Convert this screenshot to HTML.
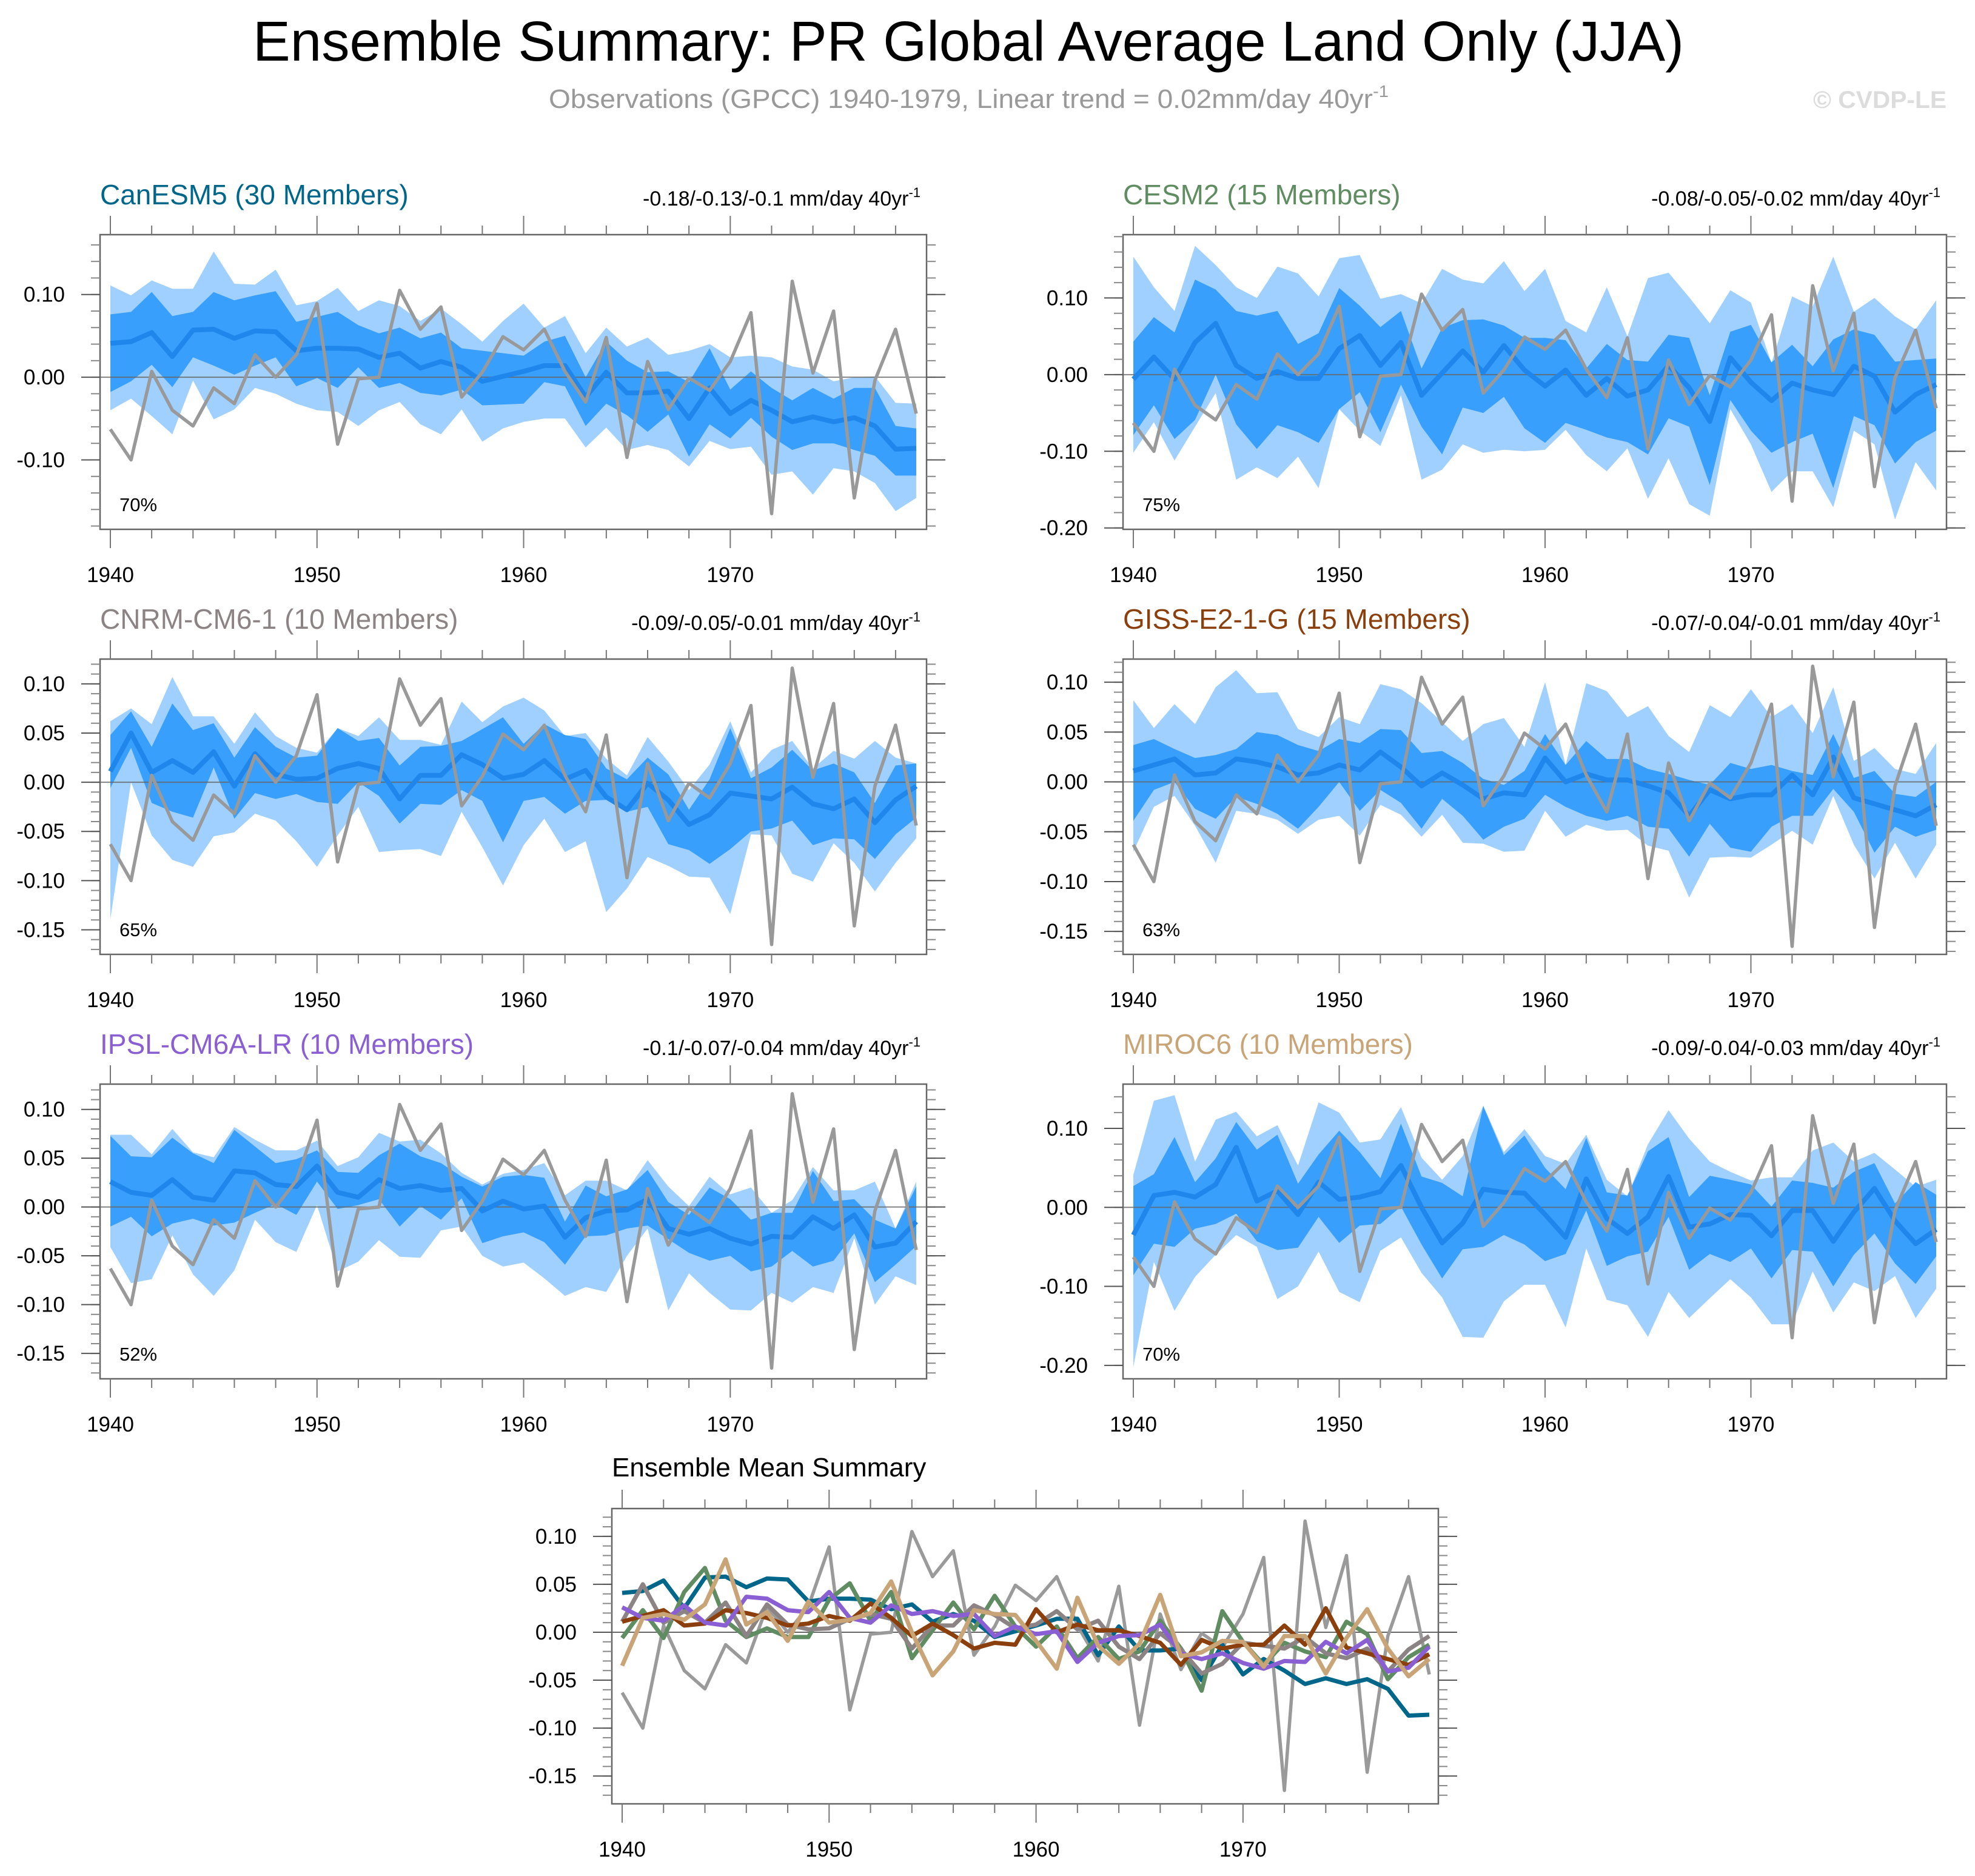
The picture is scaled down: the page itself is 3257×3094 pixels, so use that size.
<!DOCTYPE html>
<html><head><meta charset="utf-8"><title>Ensemble Summary: PR Global Average Land Only (JJA)</title>
<style>html,body{margin:0;padding:0;background:#fff}svg{display:block}text{font-family:"Liberation Sans",Arial,sans-serif}</style></head>
<body>
<svg id="fig" xmlns="http://www.w3.org/2000/svg" width="3257" height="3094" viewBox="0 0 3257 3094">
<rect width="3257" height="3094" fill="#fff"/>
<text x="417" y="100" font-size="93" textLength="2360" lengthAdjust="spacingAndGlyphs" fill="#000">Ensemble Summary: PR Global Average Land Only (JJA)</text>
<text x="905" y="178" font-size="44" fill="#999" textLength="1385" lengthAdjust="spacingAndGlyphs">Observations (GPCC) 1940-1979, Linear trend = 0.02mm/day 40yr<tspan dy="-18" font-size="28">-1</tspan></text>
<text x="2990" y="178" font-size="40" font-weight="bold" fill="#dcdcdc" textLength="220" lengthAdjust="spacingAndGlyphs">© CVDP-LE</text>
<g id="panels"></g>
</svg>
<script>
const years = [];
for (let y = 1940; y <= 1979; y++) years.push(y);

const obs = [-0.063,-0.10,0.007,-0.040,-0.059,-0.013,-0.032,0.027,0.0,0.027,0.089,-0.081,-0.002,0.0,0.105,0.058,0.085,-0.024,0.006,0.049,0.033,0.058,0.007,-0.030,0.048,-0.097,0.019,-0.039,-0.001,-0.016,0.019,0.078,-0.165,0.116,0.005,0.080,-0.146,-0.004,0.058,-0.044];

const canMean = [0.041,0.043,0.054,0.025,0.057,0.058,0.047,0.056,0.055,0.032,0.035,0.035,0.034,0.024,0.029,0.011,0.019,0.012,-0.005,0.001,0.007,0.014,0.014,-0.024,0.006,-0.019,-0.019,-0.017,-0.050,-0.013,-0.044,-0.028,-0.040,-0.054,-0.048,-0.054,-0.049,-0.059,-0.087,-0.086];
const canLightHi = [0.111,0.099,0.117,0.107,0.107,0.152,0.113,0.112,0.13,0.087,0.092,0.108,0.080,0.093,0.086,0.068,0.083,0.064,0.043,0.068,0.089,0.060,0.074,0.029,0.060,0.037,0.048,0.027,0.032,0.040,0.024,0.026,0.024,0.013,0.009,-0.005,0.000,0.001,-0.031,-0.032];
const canDarkHi = [0.076,0.079,0.103,0.074,0.079,0.103,0.093,0.099,0.104,0.067,0.073,0.079,0.063,0.053,0.060,0.047,0.054,0.035,0.032,0.029,0.026,0.043,0.050,0.0,0.043,0.020,0.006,0.007,-0.006,0.035,-0.015,0.007,-0.013,-0.028,-0.013,-0.026,-0.013,-0.013,-0.059,-0.062];
const canDarkLo = [-0.018,-0.005,0.015,-0.012,0.024,0.014,0.003,0.014,0.024,-0.011,-0.001,-0.013,0.012,-0.013,-0.007,-0.019,-0.022,-0.015,-0.034,-0.033,-0.032,-0.006,-0.011,-0.059,-0.032,-0.046,-0.066,-0.045,-0.096,-0.057,-0.074,-0.049,-0.072,-0.088,-0.080,-0.080,-0.088,-0.095,-0.119,-0.119];
const canLightLo = [-0.040,-0.026,-0.047,-0.069,-0.004,-0.051,-0.039,-0.013,-0.020,-0.032,-0.040,-0.042,-0.059,-0.040,-0.030,-0.057,-0.069,-0.039,-0.078,-0.062,-0.054,-0.050,-0.050,-0.085,-0.061,-0.088,-0.082,-0.088,-0.108,-0.077,-0.087,-0.084,-0.118,-0.114,-0.142,-0.110,-0.114,-0.128,-0.162,-0.146];

const cesmMean = [-0.006,0.023,-0.006,0.042,0.067,0.012,-0.005,0.004,-0.005,-0.005,0.034,0.051,0.012,0.042,-0.027,0.002,0.031,0.003,0.038,0.006,-0.015,0.006,-0.027,-0.005,-0.028,-0.020,0.012,-0.017,-0.061,0.022,-0.010,-0.034,-0.011,-0.020,-0.026,0.011,-0.002,-0.049,-0.026,-0.013];
const cesmLightHi = [0.154,0.114,0.083,0.168,0.143,0.114,0.100,0.141,0.132,0.102,0.152,0.156,0.099,0.105,0.093,0.138,0.124,0.119,0.148,0.109,0.138,0.070,0.055,0.114,0.050,0.126,0.133,0.101,0.067,0.110,0.094,0.015,0.102,0.089,0.154,0.082,0.100,0.076,0.059,0.097];
const cesmDarkHi = [0.043,0.075,0.055,0.124,0.111,0.083,0.077,0.083,0.040,0.054,0.113,0.090,0.062,0.083,0.008,0.061,0.071,0.072,0.064,0.048,0.048,0.045,0.008,0.040,0.019,0.017,0.052,0.048,-0.027,0.056,0.065,0.016,0.039,0.011,0.046,0.059,0.052,0.017,0.019,0.021];
const cesmDarkLo = [-0.079,-0.040,-0.084,-0.059,0.000,-0.065,-0.097,-0.066,-0.075,-0.089,-0.045,-0.023,-0.075,-0.013,-0.068,-0.104,-0.043,-0.050,-0.029,-0.070,-0.089,-0.063,-0.072,-0.082,-0.088,-0.104,-0.057,-0.068,-0.144,-0.033,-0.073,-0.102,-0.088,-0.077,-0.148,-0.054,-0.066,-0.116,-0.088,-0.073];
const cesmLightLo = [-0.102,-0.062,-0.112,-0.068,-0.024,-0.137,-0.121,-0.135,-0.107,-0.148,-0.045,-0.073,-0.093,-0.027,-0.137,-0.124,-0.091,-0.102,-0.098,-0.100,-0.098,-0.072,-0.105,-0.126,-0.096,-0.162,-0.109,-0.169,-0.184,-0.045,-0.091,-0.153,-0.126,-0.126,-0.173,-0.073,-0.091,-0.189,-0.114,-0.151];

const cnrmMean = [0.011,0.050,0.010,0.022,0.010,0.031,-0.004,0.029,0.008,0.003,0.004,0.014,0.019,0.014,-0.017,0.007,0.007,0.028,0.018,0.004,0.008,0.022,0.003,0.012,-0.015,-0.028,-0.001,-0.018,-0.043,-0.033,-0.011,-0.014,-0.017,-0.005,-0.022,-0.027,-0.017,-0.041,-0.018,-0.004];
const cnrmLightHi = [0.062,0.075,0.059,0.107,0.067,0.067,0.039,0.071,0.047,0.035,0.030,0.055,0.047,0.066,0.043,0.043,0.038,0.082,0.061,0.077,0.086,0.073,0.047,0.050,0.024,0.007,0.046,0.021,-0.008,0.018,0.062,0.010,0.033,0.042,0.014,0.032,0.024,0.042,0.025,0.019];
const cnrmDarkHi = [0.048,0.072,0.036,0.080,0.053,0.060,0.025,0.056,0.036,0.025,0.027,0.055,0.042,0.045,0.017,0.036,0.037,0.042,0.054,0.066,0.039,0.059,0.048,0.044,0.014,0.003,0.025,0.008,-0.028,0.003,0.055,0.004,0.015,0.033,0.012,0.019,0.010,-0.021,0.017,0.019];
const cnrmDarkLo = [-0.006,0.035,-0.021,-0.030,-0.036,0.015,-0.037,-0.011,-0.017,-0.012,-0.020,-0.022,0.000,-0.014,-0.042,-0.022,-0.023,-0.008,-0.019,-0.061,-0.019,-0.015,-0.032,-0.019,-0.018,-0.030,-0.025,-0.063,-0.069,-0.083,-0.068,-0.050,-0.047,-0.039,-0.064,-0.057,-0.058,-0.078,-0.053,-0.036];
const cnrmLightLo = [-0.139,0.000,-0.054,-0.079,-0.086,-0.055,-0.051,-0.032,-0.039,-0.060,-0.086,-0.054,-0.025,-0.071,-0.069,-0.068,-0.075,-0.030,-0.066,-0.105,-0.064,-0.037,-0.071,-0.060,-0.132,-0.108,-0.076,-0.085,-0.096,-0.097,-0.134,-0.053,-0.054,-0.093,-0.101,-0.062,-0.082,-0.111,-0.082,-0.057];

const gissMean = [0.011,0.017,0.023,0.007,0.009,0.023,0.020,0.015,0.007,0.009,0.017,0.012,0.030,0.015,-0.004,0.009,-0.003,-0.017,-0.011,-0.013,0.024,0.000,0.008,0.002,0.002,-0.004,-0.011,-0.034,-0.008,-0.017,-0.013,-0.013,0.007,-0.013,0.025,-0.016,-0.022,-0.028,-0.034,-0.023];
const gissLightHi = [0.082,0.054,0.078,0.058,0.095,0.112,0.089,0.090,0.053,0.045,0.065,0.058,0.098,0.093,0.079,0.060,0.041,0.058,0.064,0.035,0.100,0.017,0.099,0.091,0.065,0.076,0.046,0.030,0.077,0.065,0.093,0.065,0.078,0.049,0.095,0.021,0.034,0.013,0.008,0.039];
const gissDarkHi = [0.037,0.043,0.033,0.024,0.027,0.033,0.050,0.047,0.037,0.031,0.043,0.039,0.053,0.052,0.029,0.031,0.019,0.003,-0.003,0.011,0.048,0.017,0.041,0.023,0.023,0.013,0.008,0.002,-0.003,0.019,0.013,0.017,0.011,0.007,0.048,0.004,0.011,-0.012,-0.015,0.000];
const gissDarkLo = [-0.039,-0.008,0.000,-0.027,-0.037,-0.015,-0.022,-0.032,-0.047,-0.025,0.000,-0.029,-0.008,-0.021,-0.047,-0.017,-0.034,-0.058,-0.045,-0.037,-0.013,-0.025,-0.034,-0.039,-0.034,-0.045,-0.047,-0.075,-0.042,-0.066,-0.070,-0.045,-0.034,-0.034,-0.007,-0.030,-0.071,-0.045,-0.055,-0.048];
const gissLightLo = [-0.070,-0.025,-0.014,-0.044,-0.081,-0.029,-0.032,-0.038,-0.052,-0.038,-0.034,-0.054,-0.023,-0.033,-0.055,-0.033,-0.061,-0.062,-0.070,-0.069,-0.029,-0.055,-0.043,-0.049,-0.048,-0.064,-0.069,-0.116,-0.076,-0.075,-0.076,-0.063,-0.049,-0.063,-0.014,-0.063,-0.097,-0.061,-0.097,-0.063];

const ipslMean = [0.026,0.015,0.012,0.028,0.010,0.007,0.037,0.035,0.023,0.021,0.042,0.015,0.010,0.028,0.019,0.022,0.017,0.019,-0.004,0.006,-0.002,0.001,-0.031,-0.011,-0.004,-0.003,0.008,-0.022,-0.028,-0.022,-0.032,-0.038,-0.030,-0.031,-0.010,-0.022,-0.008,-0.041,-0.037,-0.015];
const ipslLightHi = [0.074,0.074,0.054,0.080,0.056,0.051,0.082,0.069,0.058,0.058,0.068,0.042,0.051,0.076,0.067,0.069,0.055,0.035,0.023,0.034,0.038,0.045,0.012,0.027,0.027,0.017,0.048,0.021,0.001,0.031,0.013,0.020,-0.006,0.007,0.041,0.017,0.017,0.026,-0.022,0.026];
const ipslDarkHi = [0.073,0.052,0.051,0.071,0.055,0.045,0.079,0.062,0.045,0.049,0.058,0.036,0.035,0.053,0.065,0.052,0.045,0.031,0.021,0.031,0.033,0.030,-0.015,0.022,0.011,0.018,0.038,0.005,-0.008,0.020,0.008,-0.013,-0.006,-0.006,0.037,0.006,0.008,-0.013,-0.022,0.021];
const ipslDarkLo = [-0.020,-0.010,-0.030,-0.017,-0.012,-0.019,-0.016,-0.006,0.003,-0.008,0.026,-0.002,0.002,0.008,-0.020,0.001,-0.013,0.009,-0.037,-0.030,-0.026,-0.036,-0.059,-0.030,-0.029,-0.022,-0.019,-0.033,-0.047,-0.055,-0.050,-0.066,-0.061,-0.045,-0.061,-0.055,-0.027,-0.077,-0.059,-0.040];
const ipslLightLo = [-0.041,-0.078,-0.074,-0.029,-0.069,-0.091,-0.065,-0.013,-0.036,-0.046,0.002,-0.066,-0.056,-0.034,-0.051,-0.052,-0.024,-0.020,-0.050,-0.061,-0.057,-0.073,-0.091,-0.082,-0.087,-0.050,-0.022,-0.106,-0.068,-0.088,-0.105,-0.106,-0.088,-0.098,-0.082,-0.088,-0.032,-0.100,-0.071,-0.080];

const mirocMean = [-0.035,0.015,0.019,0.013,0.029,0.076,0.008,0.021,-0.009,0.032,0.010,0.013,0.020,0.053,0.000,-0.045,-0.020,0.023,0.019,0.018,-0.009,-0.038,0.036,-0.014,-0.033,-0.012,0.039,-0.025,-0.021,-0.009,-0.010,-0.036,-0.004,-0.004,-0.043,-0.006,0.024,-0.017,-0.046,-0.028];
const mirocLightHi = [0.041,0.135,0.142,0.058,0.111,0.121,0.090,0.104,0.053,0.133,0.120,0.082,0.086,0.127,0.063,0.035,0.065,0.129,0.070,0.099,0.065,0.055,0.092,0.035,0.014,0.080,0.123,0.087,0.058,0.045,0.034,0.038,0.038,0.072,0.082,0.058,0.069,0.048,0.026,0.035];
const mirocDarkHi = [0.027,0.042,0.089,0.032,0.062,0.108,0.073,0.092,0.030,0.067,0.097,0.070,0.037,0.106,0.039,0.031,0.014,0.128,0.066,0.091,0.050,0.023,0.088,0.019,0.015,0.071,0.089,0.013,0.040,0.035,0.029,0.001,0.034,0.031,0.025,0.045,0.056,0.005,0.032,0.016];
const mirocDarkLo = [-0.086,-0.046,-0.050,-0.027,-0.021,-0.008,-0.043,-0.054,-0.051,-0.012,-0.045,-0.023,-0.021,0.001,-0.047,-0.090,-0.053,-0.050,-0.035,-0.047,-0.068,-0.059,-0.004,-0.074,-0.062,-0.056,-0.012,-0.079,-0.059,-0.069,-0.052,-0.090,-0.054,-0.056,-0.100,-0.060,-0.033,-0.071,-0.097,-0.062];
const mirocLightLo = [-0.202,-0.069,-0.131,-0.088,-0.060,-0.035,-0.050,-0.116,-0.100,-0.056,-0.107,-0.120,-0.055,-0.038,-0.083,-0.114,-0.164,-0.165,-0.119,-0.098,-0.098,-0.152,-0.052,-0.117,-0.124,-0.164,-0.107,-0.140,-0.115,-0.091,-0.114,-0.148,-0.148,-0.081,-0.133,-0.095,-0.106,-0.087,-0.140,-0.103];

const modelNames = ["CanESM5","CESM2","CNRM-CM6-1","GISS-E2-1-G","IPSL-CM6A-LR","MIROC6"];
const memberCounts = [30,15,10,15,10,10];
const trendLabels = ["-0.18/-0.13/-0.1","-0.08/-0.05/-0.02","-0.09/-0.05/-0.01","-0.07/-0.04/-0.01","-0.1/-0.07/-0.04","-0.09/-0.04/-0.03"];
const pctLabels = ["70%","75%","65%","63%","52%","70%"];
const yTickLabels = [["-0.10","0.00","0.10"],["-0.20","-0.10","0.00","0.10"],["-0.15","-0.10","-0.05","0.00","0.05","0.10"],["-0.15","-0.10","-0.05","0.00","0.05","0.10"],["-0.15","-0.10","-0.05","0.00","0.05","0.10"],["-0.20","-0.10","0.00","0.10"]];
const summaryTickLabels = ["-0.15","-0.10","-0.05","0.00","0.05","0.10"];
const xTickLabels = ["1940","1950","1960","1970"];

const means = [canMean,cesmMean,cnrmMean,gissMean,ipslMean,mirocMean];
const lightHi = [canLightHi,cesmLightHi,cnrmLightHi,gissLightHi,ipslLightHi,mirocLightHi];
const darkHi = [canDarkHi,cesmDarkHi,cnrmDarkHi,gissDarkHi,ipslDarkHi,mirocDarkHi];
const darkLo = [canDarkLo,cesmDarkLo,cnrmDarkLo,gissDarkLo,ipslDarkLo,mirocDarkLo];
const lightLo = [canLightLo,cesmLightLo,cnrmLightLo,gissLightLo,ipslLightLo,mirocLightLo];

// styling / layout (not data)
const modelColors = ["#00678a","#5f8c60","#8c8484","#8b3f0c","#8a5fd4","#c9a477"];
const yRanges = [[-0.184,0.1724,0.02],[-0.2018,0.1826,0.02],[-0.175,0.1252,0.01],[-0.173,0.1232,0.01],[-0.176,0.1259,0.01],[-0.217,0.156,0.02]];
const colX = [{l:165,r:1528,x0:182,x1:1511},{l:1852,r:3210,x0:1869,x1:3193}];
const rowY = [{t:387,b:873},{t:1087,b:1574},{t:1788,b:2274}];

const NS = "http://www.w3.org/2000/svg";
const root = document.getElementById("panels");
function mk(tag, attrs, parent) {
  const e = document.createElementNS(NS, tag);
  for (const k in attrs) e.setAttribute(k, attrs[k]);
  (parent || root).appendChild(e);
  return e;
}

function drawAxes(g, box, ymin, ymax, minorStep, labels, xs, ys, prefix) {
  const fr = mk("rect", {x: box.l, y: box.t, width: box.r - box.l, height: box.b - box.t, fill: "none", stroke: "#666", "stroke-width": 2.5}, g);
  
  
  for (let yr = 1940; yr <= 1978; yr += 2) {
    const major = (yr % 10 === 0);
    const len = major ? 31 : 15;
    const x = xs(yr);
    const t1 = mk("line", {x1: x, x2: x, y1: box.t, y2: box.t - len, stroke: "#777", "stroke-width": 2}, g);
    
    
    const t2 = mk("line", {x1: x, x2: x, y1: box.b, y2: box.b + len, stroke: "#777", "stroke-width": 2}, g);
    
    
  }
  xTickLabels.forEach(function (lab) {
    const tx = mk("text", {x: xs(+lab), y: box.b + 87, "font-size": 35, "text-anchor": "middle", fill: "#000"}, g);
    tx.textContent = lab;
    
    
  });
  const start = Math.ceil(ymin / minorStep - 1e-6);
  const end = Math.floor(ymax / minorStep + 1e-6);
  for (let i = start; i <= end; i++) {
    const v = i * minorStep;
    const y = ys(v);
    const t1 = mk("line", {x1: box.l, x2: box.l - 15, y1: y, y2: y, stroke: "#888", "stroke-width": 2}, g);
    
    
    const t2 = mk("line", {x1: box.r, x2: box.r + 15, y1: y, y2: y, stroke: "#888", "stroke-width": 2}, g);
    
    
  }
  labels.forEach(function (lab) {
    const v = parseFloat(lab);
    const y = ys(v);
    const t1 = mk("line", {x1: box.l, x2: box.l - 31, y1: y, y2: y, stroke: "#555", "stroke-width": 2}, g);
    
    
    const t2 = mk("line", {x1: box.r, x2: box.r + 31, y1: y, y2: y, stroke: "#555", "stroke-width": 2}, g);
    
    
    const tx = mk("text", {x: box.l - 58, y: y + 12, "font-size": 35, "text-anchor": "end", fill: "#000"}, g);
    tx.textContent = lab;
    
    
  });
}

function pts(arr, xs, ys) {
  return arr.map(function (v, i) { return xs(years[i]).toFixed(1) + "," + ys(v).toFixed(1); }).join(" ");
}
function bandPts(hi, lo, xs, ys) {
  const a = hi.map(function (v, i) { return xs(years[i]).toFixed(1) + "," + ys(v).toFixed(1); });
  const b = lo.map(function (v, i) { return xs(years[i]).toFixed(1) + "," + ys(v).toFixed(1); }).reverse();
  return a.concat(b).join(" ");
}

for (let p = 0; p < 6; p++) {
  const c = colX[p % 2], r = rowY[Math.floor(p / 2)];
  const box = {l: c.l, r: c.r, t: r.t, b: r.b};
  const [ymin, ymax, minor] = yRanges[p];
  const xs = function (yr) { return c.x0 + (yr - 1940) * (c.x1 - c.x0) / 39; };
  const ys = function (v) { return r.t + (ymax - v) / (ymax - ymin) * (r.b - r.t); };
  const prefix = modelNames[p].toLowerCase();
  const g = mk("g", {});
  
  

  const lb = mk("polygon", {points: bandPts(lightHi[p], lightLo[p], xs, ys), fill: "#a0d0ff"}, g);
  
  
  const db = mk("polygon", {points: bandPts(darkHi[p], darkLo[p], xs, ys), fill: "#389ffd"}, g);
  
  
  const zl = mk("line", {x1: box.l, x2: box.r, y1: ys(0), y2: ys(0), stroke: "#666", "stroke-width": 2, opacity: 0.8}, g);
  
  
  const ml = mk("polyline", {points: pts(means[p], xs, ys), fill: "none", stroke: "#1f86ec", "stroke-width": 8, "stroke-linejoin": "round"}, g);
  
  
  const ol = mk("polyline", {points: pts(obs, xs, ys), fill: "none", stroke: "#999", "stroke-width": 5.5, "stroke-linejoin": "round"}, g);
  
  

  drawAxes(g, box, ymin, ymax, minor, yTickLabels[p], xs, ys, prefix);

  const tt = mk("text", {x: box.l, y: box.t - 50, "font-size": 46, fill: modelColors[p]}, g);
  tt.textContent = modelNames[p] + " (" + memberCounts[p] + " Members)";
  
  
  const tr = mk("text", {x: box.r - 10, y: box.t - 48, "font-size": 34, "text-anchor": "end", fill: "#000"}, g);
  tr.textContent = trendLabels[p] + " mm/day 40yr";
  const sup = mk("tspan", {dy: -14, "font-size": 22}, tr);
  sup.textContent = "-1";
  
  
  const pc = mk("text", {x: box.l + 32, y: box.b - 30, "font-size": 31, fill: "#000"}, g);
  pc.textContent = pctLabels[p];
  
  
}

(function () {
  const box = {l: 1009, r: 2372, t: 2488, b: 2975};
  const x0 = 1026, x1 = 2357, ymin = -0.179, ymax = 0.129;
  const xs = function (yr) { return x0 + (yr - 1940) * (x1 - x0) / 39; };
  const ys = function (v) { return box.t + (ymax - v) / (ymax - ymin) * (box.b - box.t); };
  const g = mk("g", {});
  
  
  const zl = mk("line", {x1: box.l, x2: box.r, y1: ys(0), y2: ys(0), stroke: "#666", "stroke-width": 2}, g);
  
  
  const ol = mk("polyline", {points: pts(obs, xs, ys), fill: "none", stroke: "#9a9a9a", "stroke-width": 5.5, "stroke-linejoin": "round"}, g);
  
  
  for (let p = 0; p < 6; p++) {
    const l = mk("polyline", {points: pts(means[p], xs, ys), fill: "none", stroke: modelColors[p], "stroke-width": 7, "stroke-linejoin": "round"}, g);
    
    
  }
  drawAxes(g, box, ymin, ymax, 0.01, summaryTickLabels, xs, ys, 'summary');
  const tt = mk("text", {x: box.l, y: 2435, "font-size": 44, fill: "#000"}, g);
  tt.textContent = "Ensemble Mean Summary";
  
  
})();
</script>
</body></html>
